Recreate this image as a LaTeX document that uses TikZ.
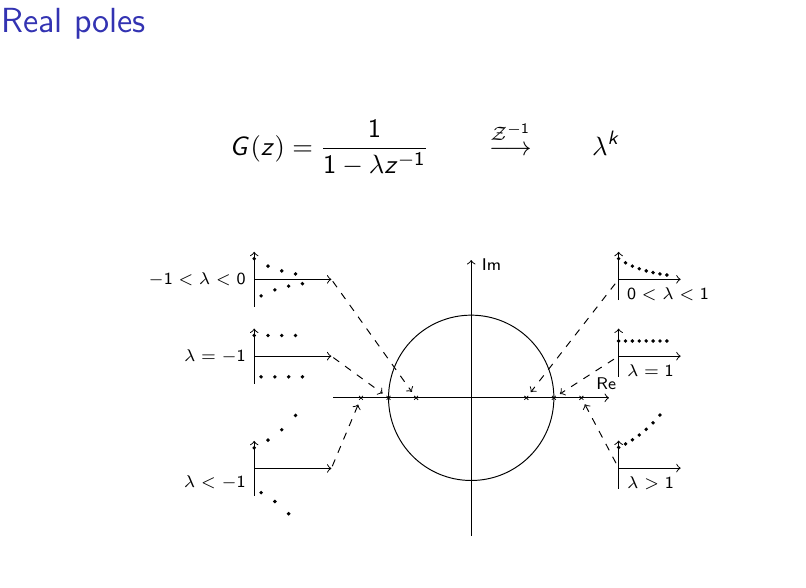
\documentclass[tikz,border=0pt]{standalone}
\usepackage{amsmath,amssymb}
\usepackage{xcolor}
\usepackage{tikz}
\definecolor{titleblue}{rgb}{0.2,0.2,0.7}
% sans digits and letters in math, as on the slides
\DeclareSymbolFont{sfdigits}{OT1}{cmss}{m}{n}
\DeclareSymbolFont{sfslant}{OT1}{cmss}{m}{sl}
\DeclareMathSymbol{0}{\mathalpha}{sfdigits}{`0}
\DeclareMathSymbol{1}{\mathalpha}{sfdigits}{`1}
\DeclareMathSymbol{G}{\mathalpha}{sfslant}{`G}
\DeclareMathSymbol{z}{\mathalpha}{sfslant}{`z}
\DeclareMathSymbol{k}{\mathalpha}{sfslant}{`k}

\begin{document}
\begin{tikzpicture}[
    >=to,
    font=\sffamily,
    pole/.style={circle, inner sep=0pt, minimum size=5.6pt},
    sample/.style={fill=black},
    lbl/.style={font=\sffamily\scriptsize},
    link/.style={->, dashed, shorten <=#1},
    link/.default=1pt
]
\useasboundingbox (-6.84,-2.75) rectangle (4.86,5.775);

\node[anchor=base west, inner sep=0pt, text=titleblue, font=\sffamily\Large] (title) at (-6.83,5.30) {Real poles};

\node[font=\sffamily\fontsize{10.95}{13.6}\selectfont] (tf) at (-0.67,3.63)
    {$\displaystyle G(z)=\frac{1}{1-\lambda z^{-1}}\qquad\stackrel{\mathcal{Z}^{-1}}{\longrightarrow}\qquad\lambda^{k}$};

% z-plane
\draw[->] (-2,0) -- (2,0);
\draw[->] (0,-2) -- (0,2);
\node[lbl, above] (relbl) at (1.96,0) {Re};
\node[lbl, right] (imlbl) at (0.03,1.94) {Im};
\draw (0,0) circle (1.2);
\foreach \name/\x in {pa/-0.8, pb/-1.2, pc/-1.6, pd/0.8, pe/1.2, pf/1.6} {
    \node[pole] (\name) at (\x,0) {};
    \draw[line width=0.3pt] (\name.center) +(-0.8pt,-0.8pt) -- +(0.8pt,0.8pt)
        +(-0.8pt,0.8pt) -- +(0.8pt,-0.8pt);
}

% left plots
\begin{scope}[shift={(-3.15,1.72)}]
    \draw[->] (0,0) -- (1.12,0) coordinate (ta);
    \draw[->] (0,-0.4) -- (0,0.4);
    \foreach \k in {0,...,7}
        \fill[sample] ({0.1*\k},{0.3*cos(180*\k)*0.8^\k}) circle (0.8pt);
    \node[lbl, left] (la) at (0,0) {$-1<\lambda<0$};
\end{scope}
\begin{scope}[shift={(-3.15,0.605)}]
    \draw[->] (0,0) -- (1.12,0) coordinate (tb);
    \draw[->] (0,-0.4) -- (0,0.4);
    \foreach \k in {0,...,7}
        \fill[sample] ({0.1*\k},{0.3*cos(180*\k)}) circle (0.8pt);
    \node[lbl, left] (lb) at (0,0) {$\lambda=-1$};
\end{scope}
\begin{scope}[shift={(-3.15,-1.025)}]
    \draw[->] (0,0) -- (1.12,0) coordinate (tc);
    \draw[->] (0,-0.4) -- (0,0.4);
    \foreach \k in {0,...,6}
        \fill[sample] ({0.1*\k},{0.3*cos(180*\k)*1.17^\k}) circle (0.8pt);
    \node[lbl, left] (lc) at (0,-0.2) {$\lambda<-1$};
\end{scope}

% right plots
\begin{scope}[shift={(2.14,1.72)}]
    \coordinate (td) at (0,0);
    \draw[->] (0,0) -- (0.9,0);
    \draw[->] (0,-0.3) -- (0,0.4);
    \foreach \k in {0,...,7}
        \fill[sample] ({0.1*\k},{0.3*0.8^\k}) circle (0.8pt);
    \node[lbl, below right] (ld) at (0,0) {$0<\lambda<1$};
\end{scope}
\begin{scope}[shift={(2.14,0.605)}]
    \coordinate (te) at (0,0);
    \draw[->] (0,0) -- (0.9,0);
    \draw[->] (0,-0.3) -- (0,0.4);
    \foreach \k in {0,...,7}
        \fill[sample] ({0.1*\k},0.22) circle (0.8pt);
    \node[lbl, below right] (le) at (0,0) {$\lambda=1$};
\end{scope}
\begin{scope}[shift={(2.14,-1.02)}]
    \coordinate (tf6) at (0,0);
    \draw[->] (0,0) -- (0.9,0);
    \draw[->] (0,-0.3) -- (0,0.4);
    \foreach \k in {0,...,6}
        \fill[sample] ({0.1*\k},{0.3*1.17^\k}) circle (0.8pt);
    \node[lbl, below right] (lf) at (0,0) {$\lambda>1$};
\end{scope}

% plots to poles
\draw[link] (ta) -- (pa);
\draw[link] (tb) -- (pb);
\draw[link] (tc) -- (pc);
\draw[link=2.3pt] (td) -- (pd);
\draw[link=2.3pt] (te) -- (pe);
\draw[link=2.3pt] (tf6) -- (pf);
\end{tikzpicture}
\end{document}
